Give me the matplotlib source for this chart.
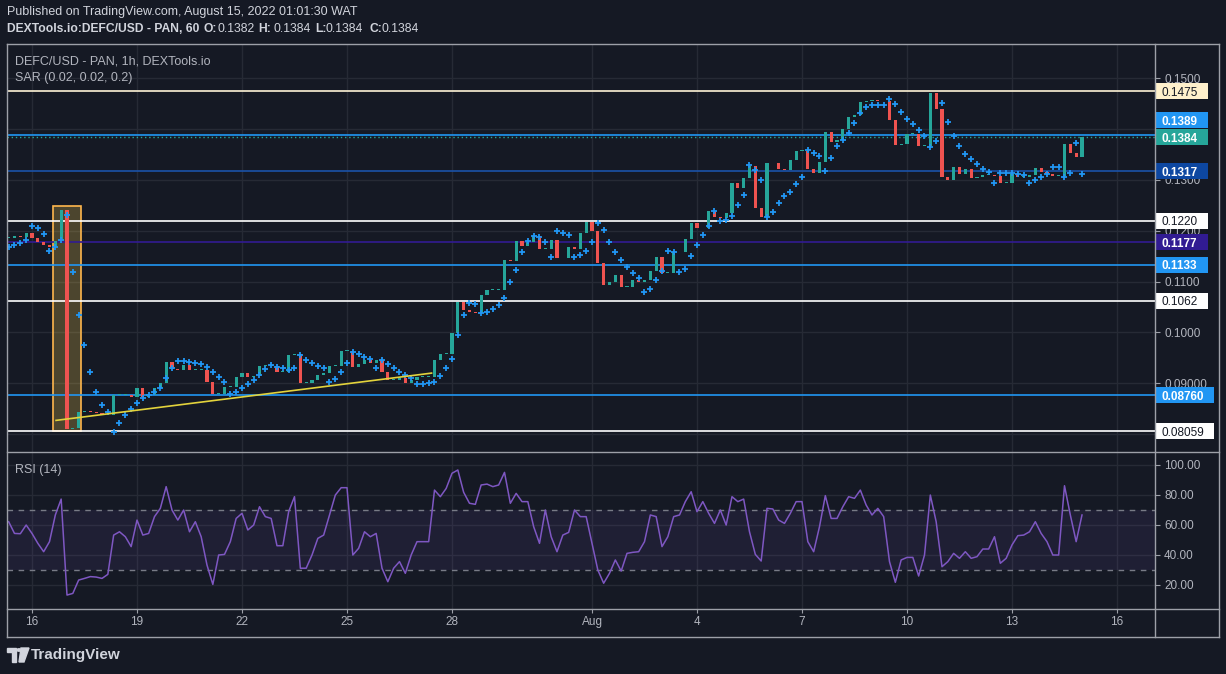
import numpy as np
import matplotlib
matplotlib.use("Agg")
from matplotlib import pyplot as plt
from matplotlib import transforms
from matplotlib.patches import Rectangle, Polygon, Circle
from matplotlib.lines import Line2D

plt.rcParams['font.family'] = ['Liberation Sans', 'DejaVu Sans']

BG = '#151924'
GRID = '#262a35'
FRAME = '#9da0a8'
TXT = '#b2b5be'
GREEN = '#26a69a'
RED = '#ef5350'
BLUE = '#2196f3'

# one bar every 4 hours, hours counted from 16 Jul 2022 00:00
hours = np.arange(-16, 721, 4)

close = [
    0.1186, 0.1190, 0.1188, 0.1195,
    0.1186, 0.1178, 0.1172, 0.1168, 0.1180, 0.1241,
    0.0810, 0.0812, 0.0844, 0.0845, 0.0844, 0.0841,
    0.0837, 0.0838, 0.0877, 0.0877, 0.0877, 0.0873,
    0.0891, 0.0873, 0.0877, 0.0891, 0.0900, 0.0942,
    0.0928, 0.0927, 0.0935, 0.0926, 0.0926, 0.0926,
    0.0903, 0.0879, 0.0879, 0.0893, 0.0893, 0.0913,
    0.0920, 0.0913, 0.0915, 0.0934, 0.0934, 0.0934,
    0.0922, 0.0922, 0.0955, 0.0957, 0.0901, 0.0901,
    0.0907, 0.0916, 0.0920, 0.0934, 0.0934, 0.0964,
    0.0964, 0.0932, 0.0938, 0.0946, 0.0940, 0.0946,
    0.0923, 0.0907, 0.0907, 0.0910, 0.0901, 0.0907,
    0.0913, 0.0913, 0.0913, 0.0946, 0.0958, 0.0958,
    0.0999, 0.1060, 0.1044, 0.1040, 0.1038, 0.1074,
    0.1084, 0.1084, 0.1084, 0.1143, 0.1141, 0.1180,
    0.1170, 0.1178, 0.1190, 0.1164, 0.1164, 0.1182,
    0.1146, 0.1146, 0.1168, 0.1165, 0.1196, 0.1218,
    0.1200, 0.1137, 0.1093, 0.1099, 0.1113, 0.1090,
    0.1090, 0.1104, 0.1100, 0.1104, 0.1121, 0.1149,
    0.1117, 0.1117, 0.1158, 0.1158, 0.1184, 0.1215,
    0.1205, 0.1205, 0.1239, 0.1227, 0.1225, 0.1235,
    0.1294, 0.1284, 0.1304, 0.1327, 0.1245, 0.1228,
    0.1333, 0.1333, 0.1321, 0.1320, 0.1339, 0.1357,
    0.1357, 0.1321, 0.1314, 0.1336, 0.1394, 0.1375,
    0.1379, 0.1400, 0.1424, 0.1428, 0.1453, 0.1455,
    0.1457, 0.1455, 0.1455, 0.1418, 0.1369, 0.1371,
    0.1391, 0.1391, 0.1367, 0.1367, 0.1471, 0.1440,
    0.1306, 0.1300, 0.1326, 0.1312, 0.1321, 0.1304,
    0.1306, 0.1310, 0.1310, 0.1307, 0.1294, 0.1294,
    0.1312, 0.1306, 0.1306, 0.1309, 0.1323, 0.1316,
    0.1311, 0.1308, 0.1308, 0.1371, 0.1353, 0.1345,
    0.1384,
]

sar = [
    0.1168, 0.1172, 0.1176, 0.1182,
    0.1209, 0.1205, 0.1194, 0.1160, 0.1168, 0.1182,
    0.1231, 0.1119, 0.1034, 0.0975, 0.0922, 0.0883,
    0.0857, 0.0844, 0.0805, 0.0822, 0.0838, 0.0850,
    0.0861, 0.0871, 0.0877, 0.0883, 0.0891, 0.0910,
    0.0930, 0.0944, 0.0944, 0.0942, 0.0940, 0.0938,
    0.0932, 0.0922, 0.0913, 0.0903, 0.0879, 0.0883,
    0.0891, 0.0899, 0.0907, 0.0916, 0.0928, 0.0936,
    0.0932, 0.0930, 0.0926, 0.0930, 0.0955, 0.0946,
    0.0940, 0.0934, 0.0930, 0.0903, 0.0908, 0.0922,
    0.0940, 0.0962, 0.0958, 0.0952, 0.0948, 0.0930,
    0.0946, 0.0938, 0.0930, 0.0922, 0.0916, 0.0910,
    0.0899, 0.0899, 0.0901, 0.0903, 0.0915, 0.0930,
    0.0948, 0.0995, 0.1034, 0.1058, 0.1056, 0.1038,
    0.1040, 0.1046, 0.1054, 0.1068, 0.1100, 0.1123,
    0.1159, 0.1180, 0.1190, 0.1188, 0.1178, 0.1149,
    0.1200, 0.1196, 0.1192, 0.1149, 0.1152, 0.1160,
    0.1178, 0.1215, 0.1202, 0.1178, 0.1158, 0.1143,
    0.1129, 0.1117, 0.1107, 0.1080, 0.1086, 0.1103,
    0.1121, 0.1160, 0.1158, 0.1119, 0.1125, 0.1151,
    0.1172, 0.1192, 0.1209, 0.1239, 0.1220, 0.1222,
    0.1229, 0.1251, 0.1270, 0.1329, 0.1320, 0.1300,
    0.1227, 0.1237, 0.1255, 0.1268, 0.1276, 0.1292,
    0.1306, 0.1359, 0.1353, 0.1347, 0.1318, 0.1343,
    0.1367, 0.1378, 0.1392, 0.1412, 0.1432, 0.1444,
    0.1447, 0.1447, 0.1447, 0.1459, 0.1449, 0.1434,
    0.1420, 0.1410, 0.1398, 0.1387, 0.1365, 0.1377,
    0.1451, 0.1414, 0.1387, 0.1367, 0.1351, 0.1341,
    0.1331, 0.1321, 0.1316, 0.1294, 0.1314, 0.1314,
    0.1313, 0.1311, 0.1310, 0.1294, 0.1300, 0.1306,
    0.1311, 0.1326, 0.1325, 0.1306, 0.1314, 0.1373,
    0.1311,
]

rsi = [
    62.0, 54.2, 54.0, 59.8,
    54.2, 47.6, 42.0, 48.7, 66.5, 77.1,
    13.1, 14.2, 23.1, 24.2, 25.4, 25.1,
    24.2, 26.9, 53.1, 55.3, 52.0, 45.4,
    63.1, 53.1, 54.2, 65.4, 70.9, 85.4,
    69.8, 63.1, 69.8, 55.3, 62.0, 52.0,
    33.1, 20.2, 39.8, 40.2, 48.7, 64.2,
    67.6, 56.5, 59.8, 72.0, 65.4, 64.2,
    46.0, 46.0, 68.7, 78.7, 31.0, 31.0,
    39.8, 50.9, 53.1, 66.5, 79.8, 84.7,
    84.7, 39.8, 44.3, 55.3, 52.0, 54.2,
    31.0, 22.0, 31.0, 35.4, 27.6, 39.8,
    48.7, 48.7, 48.7, 83.1, 78.7, 84.2,
    94.3, 96.5, 81.6, 74.3, 73.6, 86.5,
    87.1, 85.4, 86.5, 94.9, 74.3, 80.9,
    75.4, 75.4, 58.7, 47.6, 69.8, 52.0,
    42.0, 53.1, 54.9, 69.8, 65.4, 65.4,
    47.6, 29.8, 21.0, 27.6, 36.5, 29.1,
    40.9, 41.6, 42.0, 48.7, 66.5, 65.4,
    45.4, 52.0, 65.4, 66.5, 75.4, 82.0,
    68.7, 75.4, 67.6, 60.9, 69.8, 59.8,
    78.7, 75.4, 77.1, 55.3, 40.2, 35.8,
    70.9, 70.5, 63.1, 60.9, 67.6, 75.4,
    75.4, 48.7, 42.0, 58.7, 79.4, 64.2,
    64.2, 72.0, 78.7, 77.6, 83.1, 73.1,
    66.5, 70.9, 65.4, 35.4, 21.6, 36.5,
    38.2, 38.2, 25.8, 39.8, 79.8, 62.0,
    32.0, 35.4, 40.9, 37.6, 42.0, 37.6,
    38.7, 43.8, 43.8, 52.0, 34.3, 37.6,
    46.5, 52.7, 53.1, 55.3, 62.0, 54.2,
    48.7, 39.8, 39.8, 86.0, 66.5, 48.7,
    66.5,
]

# drawn horizontal levels and their price-scale labels
levels = [0.1475, 0.1389, 0.1317, 0.1220, 0.1177, 0.1133, 0.1062, 0.0876, 0.08059]
level_text = ['0.1475', '0.1389', '0.1317', '0.1220', '0.1177', '0.1133', '0.1062', '0.08760', '0.08059']
level_line = ['#fff3d6', BLUE, '#1a52a8', '#ffffff', '#311b92', BLUE, '#ffffff', BLUE, '#ffffff']
level_box = ['#fff1cc', BLUE, '#0d47a1', '#ffffff', '#311b92', BLUE, '#ffffff', BLUE, '#ffffff']
level_shift = [0, 14.5, 0, 0, 0, 0, 0, 0, 0]

date_ticks = [0, 72, 144, 216, 288, 384, 456, 528, 600, 672, 744]
date_labels = ['16', '19', '22', '25', '28', 'Aug', '4', '7', '10', '13', '16']
price_ticks = [0.08, 0.09, 0.10, 0.11, 0.12, 0.13, 0.14, 0.15]
price_labels = ['', '0.09000', '0.1000', '0.1100', '0.1200', '0.1300', '', '0.1500']
rsi_ticks = [20, 40, 60, 80, 100]

# highlighted box and the rising trend line
box_h = (14.6, 33.8)
box_p = (0.0807, 0.1248)
trend_h = [16.5, 274]
trend_p = [0.0827, 0.0920]

W, H = 1226, 674
fig = plt.figure(figsize=(W / 100, H / 100), dpi=100, facecolor=BG)


def fx(px):
    return px / W


def fy(py):
    return 1 - py / H


ax = fig.add_axes([fx(7), fy(452), (1155 - 7) / W, (452 - 44) / H], facecolor=BG)
ax2 = fig.add_axes([fx(7), fy(609), (1155 - 7) / W, (609 - 452) / H], facecolor=BG, sharex=ax)

# price pane
close = np.array(close)
opens = np.r_[close[0], close[:-1]]
up = close >= opens
body = np.maximum(np.abs(close - opens), 0.00012)
ax.add_patch(Rectangle((box_h[0], box_p[0]), box_h[1] - box_h[0], box_p[1] - box_p[0],
                       facecolor='#ffd54f', alpha=0.24, edgecolor='none', zorder=1))
ax.add_patch(Rectangle((box_h[0], box_p[0]), box_h[1] - box_h[0], box_p[1] - box_p[0],
                       facecolor='none', edgecolor='#ffb74d', lw=1.2, zorder=1.1))
for lv, lc in zip(levels, level_line):
    ax.axhline(lv, color=lc, lw=1.2, zorder=2)
ax.axhline(close[-1], color=GREEN, ls=(0, (1, 2)), lw=1, zorder=2)
ax.bar(hours, body, bottom=np.minimum(opens, close), width=2.2,
       color=np.where(up, GREEN, RED), linewidth=0, zorder=3)
ax.plot(hours, sar, '+', color=BLUE, ms=3.8, mew=1.3, zorder=4)
ax.plot(trend_h, trend_p, color='#e3d33c', lw=1.2, zorder=5)

ax.set_xlim(-17.14, 770.06)
ax.set_ylim(0.07648, 0.156748)
ax.set_yticks(price_ticks)
ax.set_yticklabels(price_labels)
ax.yaxis.tick_right()
ax.tick_params(axis='y', colors=FRAME, labelcolor=TXT, labelsize=8.5, length=3.5, pad=3)
ax.tick_params(axis='x', length=0, labelbottom=False)
ax.set_xticks(date_ticks)
ax.grid(True, color=GRID, lw=1)
ax.set_axisbelow(True)

# RSI pane
ax2.axhspan(30, 70, color='#7e57c2', alpha=0.1, lw=0)
ax2.axhline(70, color='#787b86', ls=(0, (4, 4)), lw=1)
ax2.axhline(30, color='#787b86', ls=(0, (4, 4)), lw=1)
ax2.plot(hours, rsi, color='#7e57c2', lw=1.1, zorder=3)
ax2.set_ylim(3.8, 108.5)
ax2.set_yticks(rsi_ticks)
ax2.set_yticklabels(['%.2f' % t for t in rsi_ticks])
ax2.yaxis.tick_right()
ax2.tick_params(axis='y', colors=FRAME, labelcolor=TXT, labelsize=8.5, length=3.5, pad=3)
ax2.set_xticks(date_ticks)
ax2.set_xticklabels(date_labels)
ax2.tick_params(axis='x', colors=FRAME, labelcolor=TXT, labelsize=8.5, length=3, pad=2)
ax2.grid(True, color=GRID, lw=1)
ax2.set_axisbelow(True)

for a in (ax, ax2):
    for s in a.spines.values():
        s.set_visible(False)

# price-scale label boxes, placed in pixels
ident = transforms.IdentityTransform()
labels = list(zip(levels, level_text, level_box, level_shift))
labels.append((close[-1], '%.4f' % close[-1], GREEN, 0))
for lv, txt, bc, sh in labels:
    yd = ax.transData.transform((0, lv))[1] + sh
    light = bc.lower() in ('#ffffff', '#fff1cc')
    bw = 52 if len(txt) <= 6 else 58
    fig.add_artist(Rectangle((1155.5, yd - 8), bw, 16, transform=ident,
                             facecolor=bc, edgecolor='none', zorder=10))
    fig.add_artist(plt.Text(1162, yd, txt, transform=ident, ha='left', va='center_baseline',
                            fontsize=8.5, color='#131722' if light else 'white',
                            fontweight='normal' if light else 'bold', zorder=11))

# frame
for x0, x1, y in [(7, 1219, 44), (7, 1219, 452), (7, 1219, 609), (7, 1219, 637)]:
    fig.add_artist(Line2D([fx(x0), fx(x1)], [fy(y), fy(y)], color=FRAME, lw=1, zorder=12))
for x, y0, y1 in [(7, 44, 637), (1155, 44, 637), (1219, 44, 637)]:
    fig.add_artist(Line2D([fx(x), fx(x)], [fy(y0), fy(y1)], color=FRAME, lw=1, zorder=12))

# texts
fig.text(fx(7), fy(12), 'Published on TradingView.com, August 15, 2022 01:01:30 WAT',
         color='#d1d4dc', fontsize=9, va='center')
pieces = [(7, 'DEXTools.io:DEFC/USD - PAN, 60', 'bold'), (204, 'O:', 'bold'), (217, '0.1382', 'normal'),
          (258, 'H:', 'bold'), (273, '0.1384', 'normal'), (315, 'L:', 'bold'), (326, '0.1384', 'normal'),
          (369, 'C:', 'bold'), (381, '0.1384', 'normal')]
for px, s, wgt in pieces:
    fig.text(fx(px), fy(29), s, color='#d1d4dc', fontsize=8.7, fontweight=wgt, va='center')
fig.text(fx(15), fy(61), 'DEFC/USD - PAN, 1h, DEXTools.io', color=TXT, fontsize=9, va='center')
fig.text(fx(15), fy(78), 'SAR (0.02, 0.02, 0.2)', color=TXT, fontsize=9, va='center')
fig.text(fx(15), fy(470), 'RSI (14)', color=TXT, fontsize=9, va='center')

# TradingView logo
logo = '#d1d4dc'
fig.add_artist(Polygon([(fx(7), fy(648)), (fx(16), fy(648)), (fx(16), fy(662)), (fx(12), fy(662)),
                        (fx(12), fy(652)), (fx(7), fy(652))], closed=True, color=logo))
fig.add_artist(Circle((fx(19), fy(650)), 2.2 / W, color=logo))
fig.add_artist(Polygon([(fx(21), fy(648)), (fx(29), fy(648)), (fx(24), fy(662)), (fx(19), fy(662))],
                       closed=True, color=logo))
fig.text(fx(31), fy(655), 'TradingView', color=logo, fontsize=11, fontweight='bold', va='center')

fig.savefig('out.png', dpi=100, facecolor=BG)
